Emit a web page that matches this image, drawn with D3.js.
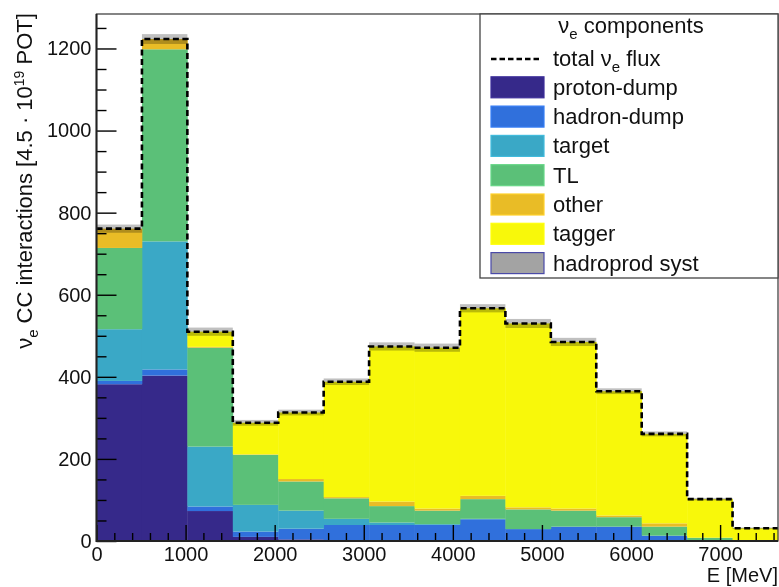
<!DOCTYPE html>
<html>
<head>
<meta charset="utf-8">
<script src="https://cdn.jsdelivr.net/npm/d3@7"></script>
<style>
  body { margin: 0; background: #fff; }
  svg { display: block; font-family: "Liberation Sans", Arial, Helvetica, sans-serif; }
</style>
</head>
<body>
<svg id="chart" width="779" height="587"></svg>
<script>
// bin edges in MeV (15 bins)
const binEdges = [0, 510, 1020, 1530, 2040, 2550, 3060, 3570, 4080, 4590, 5100, 5610, 6120, 6630, 7140, 7650];

// nu_e CC interactions per component, per bin
const protonDump = [382, 403, 73, 10, 4, 0, 0, 0, 0, 0, 0, 0, 0, 0, 0];
const hadronDump = [8, 15, 11, 13, 26, 39, 39, 39, 53, 29, 35, 35, 13, 2, 0];
const target     = [126, 312, 146, 65, 44, 15, 6, 2, 1, 0, 0, 0, 0, 0, 0];
const tl         = [198, 468, 241, 122, 71, 50, 40, 33, 48, 48, 39, 23, 22, 6, 0];
const other      = [47, 25, 2, 1, 6, 3, 11, 5, 8, 5, 5, 4, 8, 0, 0];
const tagger     = [0, 0, 37, 77, 162, 281, 378, 392, 457, 448, 406, 303, 218, 94, 31];
const hadroSyst  = [10, 12, 10, 7, 7, 8, 10, 10, 10, 11, 10, 7, 6, 3, 2];

const seriesKeys   = ["proton-dump", "hadron-dump", "target", "TL", "other", "tagger"];
const seriesValues = [protonDump, hadronDump, target, tl, other, tagger];

const yMajorTicks = [0, 200, 400, 600, 800, 1000, 1200];
const xMajorTicks = [0, 1000, 2000, 3000, 4000, 5000, 6000, 7000];

const colors = {
  "proton-dump": "#36298a",
  "hadron-dump": "#3070dc",
  "target": "#3aa8c6",
  "TL": "#5bc078",
  "other": "#e9bc26",
  "tagger": "#f8f80a"
};

const W = 779, H = 587;
const M = { top: 14, right: 1, bottom: 46, left: 96.5 };

const svg = d3.select("#chart");

const x = d3.scaleLinear().domain([0, 7650]).range([M.left, W - M.right]);
const y = d3.scaleLinear().domain([0, 1284]).range([H - M.bottom, M.top]);

// table for stacking
const rows = binEdges.slice(0, -1).map((lo, i) => {
  const r = { lo, hi: binEdges[i + 1] };
  seriesKeys.forEach((k, j) => { r[k] = seriesValues[j][i]; });
  return r;
});
const totals = rows.map(r => d3.sum(seriesKeys, k => r[k]));

const stacked = d3.stack().keys(seriesKeys)(rows);

// stacked bars
svg.append("g").selectAll("g")
  .data(stacked)
  .join("g")
  .attr("fill", d => colors[d.key])
  .selectAll("rect")
  .data(d => d)
  .join("rect")
  .attr("x", d => x(d.data.lo))
  .attr("width", d => x(d.data.hi) - x(d.data.lo) + 0.4)
  .attr("y", d => y(d[1]))
  .attr("height", d => Math.max(0, y(d[0]) - y(d[1])));

// hadroprod syst band
svg.append("g").selectAll("rect")
  .data(rows)
  .join("rect")
  .attr("x", d => x(d.lo))
  .attr("width", d => x(d.hi) - x(d.lo))
  .attr("y", (d, i) => y(totals[i] + hadroSyst[i]))
  .attr("height", (d, i) => y(totals[i] - hadroSyst[i]) - y(totals[i] + hadroSyst[i]))
  .attr("fill", "#c0c0c0")
  .style("mix-blend-mode", "multiply");

// total flux dashed step line
const stepPts = [];
rows.forEach((r, i) => { stepPts.push([r.lo, totals[i]], [r.hi, totals[i]]); });
svg.append("path")
  .attr("d", d3.line().x(d => x(d[0])).y(d => y(d[1]))(stepPts))
  .attr("fill", "none")
  .attr("stroke", "#000")
  .attr("stroke-width", 2.6)
  .attr("stroke-dasharray", "6,3.5");

// axes (ticks inside the frame, ROOT style)
const yMinor = d3.range(50, 1284, 50).filter(v => v % 200 !== 0);
const xMinor = d3.range(200, 7650, 200).filter(v => v % 1000 !== 0);

function styleAxis(g) {
  g.select(".domain").remove();
  g.selectAll(".tick line").attr("stroke", "#000").attr("stroke-width", 1.4);
  g.selectAll(".tick text").attr("fill", "#111").style("font-size", "20px");
}

svg.append("g").attr("transform", `translate(${M.left},0)`)
  .call(d3.axisLeft(y).tickValues(yMinor).tickSize(-10).tickFormat(""))
  .call(styleAxis);
svg.append("g").attr("transform", `translate(${M.left},0)`)
  .call(d3.axisLeft(y).tickValues(yMajorTicks).tickSize(-20).tickPadding(5).tickFormat(d3.format("d")))
  .call(styleAxis);

svg.append("g").attr("transform", `translate(0,${H - M.bottom})`)
  .call(d3.axisBottom(x).tickValues(xMinor).tickSize(-8).tickFormat(""))
  .call(styleAxis);
svg.append("g").attr("transform", `translate(0,${H - M.bottom})`)
  .call(d3.axisBottom(x).tickValues(xMajorTicks).tickSize(-16).tickPadding(6).tickFormat(d3.format("d")))
  .call(styleAxis);

// frame
svg.append("rect")
  .attr("x", M.left).attr("y", M.top)
  .attr("width", W - M.right - M.left).attr("height", H - M.bottom - M.top)
  .attr("fill", "none").attr("stroke", "#444").attr("stroke-width", 1.3);
svg.append("path")
  .attr("d", `M${M.left},${M.top}V${H - M.bottom}H${W - M.right}`)
  .attr("fill", "none").attr("stroke", "#222").attr("stroke-width", 2);

// axis titles
const yt = svg.append("text")
  .attr("transform", "translate(31.5,181) rotate(-90)")
  .attr("text-anchor", "middle")
  .style("font-size", "22px")
  .attr("fill", "#111");
yt.append("tspan").text("ν");
yt.append("tspan").attr("dy", 6).style("font-size", "15px").text("e");
yt.append("tspan").attr("dy", -6).text(" CC interactions [4.5 · 10");
yt.append("tspan").attr("dy", -8).style("font-size", "14px").text("19");
yt.append("tspan").attr("dy", 8).text(" POT]");

svg.append("text")
  .attr("x", W - M.right).attr("y", 582)
  .attr("text-anchor", "end")
  .style("font-size", "20px")
  .attr("fill", "#111")
  .text("E [MeV]");

// legend
const lg = svg.append("g");
lg.append("rect")
  .attr("x", 480).attr("y", M.top).attr("width", 298).attr("height", 264)
  .attr("fill", "#fff").attr("stroke", "#444").attr("stroke-width", 1.3);

const lt = lg.append("text")
  .attr("x", 631).attr("y", 33)
  .attr("text-anchor", "middle")
  .style("font-size", "22px").attr("fill", "#111");
lt.append("tspan").text("ν");
lt.append("tspan").attr("dy", 6).style("font-size", "15px").text("e");
lt.append("tspan").attr("dy", -6).text(" components");

const rowY = i => 58 + i * 29.3;

lg.append("line")
  .attr("x1", 491).attr("x2", 542)
  .attr("y1", rowY(0) + 1).attr("y2", rowY(0) + 1)
  .attr("stroke", "#000").attr("stroke-width", 2.4)
  .attr("stroke-dasharray", "5.5,3");
const ft = lg.append("text")
  .attr("x", 553).attr("y", rowY(0) + 7.5)
  .style("font-size", "22px").attr("fill", "#111");
ft.append("tspan").text("total ν");
ft.append("tspan").attr("dy", 6).style("font-size", "15px").text("e");
ft.append("tspan").attr("dy", -6).text(" flux");

const legendKeys = [...seriesKeys, "hadroprod syst"];
const legendFill = k => k === "hadroprod syst" ? "#a3a3a3" : colors[k];

const items = lg.selectAll(".item")
  .data(legendKeys)
  .join("g")
  .attr("class", "item")
  .attr("transform", (d, i) => `translate(0,${rowY(i + 1)})`);

items.append("rect")
  .attr("x", 491).attr("y", -10.5).attr("width", 53).attr("height", 21)
  .attr("fill", legendFill)
  .attr("stroke", d => d === "hadroprod syst" ? "#4a4aa8" : d3.color(legendFill(d)).brighter(0.3))
  .attr("stroke-width", 1.2);

items.append("text")
  .attr("x", 553).attr("y", 7.5)
  .style("font-size", "22px").attr("fill", "#111")
  .text(d => d);
</script>
</body>
</html>
